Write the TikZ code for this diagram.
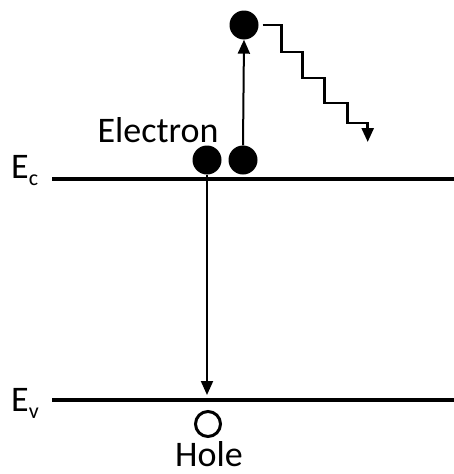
\documentclass[tikz,border=0pt]{standalone}
\usepackage{fontspec}
\setmainfont{Carlito}
\usetikzlibrary{arrows.meta}
\tikzset{
  level/.style={line width=3.2pt},
  jump/.style={line width=2pt,-{Triangle[length=14pt,width=12pt]}},
  carrier/.style={circle,fill=black,inner sep=0pt,minimum size=29pt},
  hole/.style={circle,draw=black,line width=3pt,inner sep=0pt,minimum size=25pt},
  lbl/.style={font=\fontsize{36}{40}\selectfont,inner sep=0pt}
}
\newcommand{\sublbl}[1]{\raisebox{-7pt}{\fontsize{22}{22}\selectfont #1}}
\begin{document}
\begin{tikzpicture}[x=1pt,y=-1pt]
\useasboundingbox (0,0) rectangle (454,474);
% energy levels
\draw[level] (52,179) -- (454,179);
\draw[level] (52,400) -- (454,400);
\node[lbl,anchor=base west] (Ec) at (11,178) {E\sublbl{c}};
\node[lbl,anchor=base west] (Ev) at (11,411) {E\sublbl{v}};
% carriers
\node[carrier] (e1) at (207,160) {};
\node[carrier] (e2) at (243,160) {};
\node[carrier] (e3) at (244,25) {};
\node[hole] (h) at (208,424) {};
\node[lbl,anchor=base] (el) at (158,142) {Electron};
\node[lbl,anchor=base] (hl) at (209,466) {Hole};
\coordinate (ev) at (207,395);
% transitions
\draw[jump] (e2.north) -- (e3.south);
\draw[jump] (e1.south) -- (ev);
\draw[jump,line width=2.6pt] (e3.east) ++(4,0) -- ++(19,0) -- ++(0,27) -- ++(21,0) -- ++(0,26)
  -- ++(22,0) -- ++(0,25) -- ++(23,0) -- ++(0,20) -- ++(20,0) -- ++(0,19);
\end{tikzpicture}
\end{document}
